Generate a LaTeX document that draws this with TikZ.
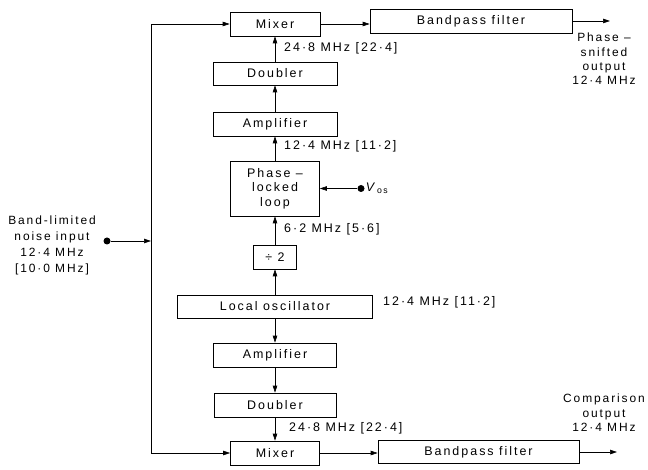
\documentclass[tikz,border=0pt]{standalone}
\usepackage{fontspec}
\setmainfont{Liberation Sans}[LetterSpace=16]
\usepackage{tikz}
\usetikzlibrary{positioning,arrows.meta}

\begin{document}
\begin{tikzpicture}[
				x=1bp, y=-1bp,
				every node/.style={font=\fontsize{12.5}{14.5}\selectfont},
				block/.style={
						draw,
						rectangle,
						minimum height=24bp,
						inner sep=0pt,
						align=center,
						semithick
					},
				freq/.style={anchor=west, inner sep=0pt},
				label/.style={align=center, font=\fontsize{12}{14.5}\selectfont},
				arrow/.style={-{Triangle[length=7bp,width=4.5bp]}, semithick},
				dot/.style={circle, fill, inner sep=0pt, minimum size=7bp}
			]
		\useasboundingbox (0,0) rectangle (648,470);

		% Upper branch (phase-shifted path)
		\node[block, minimum width=90bp] (mixA) at (275,24) {Mixer};
		\node[block, minimum width=202bp] (bpfA) at (471,21) {Bandpass filter};
		\node[block, minimum width=124bp, minimum height=23bp] (dblA) at (275,73.5) {Doubler};
		\node[block, minimum width=124bp] (ampA) at (275,124) {Amplifier};
		\node[block, minimum width=89bp, minimum height=55bp] (pll) at (275,188.5) {Phase –\\locked\\loop};
		\node[block, minimum width=43bp] (div) at (275,257) {÷ 2};

		% Local oscillator and lower branch (comparison path)
		\node[block, minimum width=195bp, minimum height=23bp] (lo) at (275,306.5) {Local oscillator};
		\node[block, minimum width=123bp] (ampB) at (275,355) {Amplifier};
		\node[block, minimum width=122bp] (dblB) at (275,405) {Doubler};
		\node[block, minimum width=89bp] (mixB) at (275,453) {Mixer};
		\node[block, minimum width=201bp, minimum height=23bp] (bpfB) at (478.5,452) {Bandpass filter};

		% Input, control voltage and outputs
		\node[dot] (in) at (107,241) {};
		\coordinate (jn) at (151,241);
		\node[dot] (vos) at (361,188.5) {};
		\node[anchor=west, inner sep=1pt] (voslbl) at (vos.east) {\textit{V}\textsubscript{os}};
		\coordinate (outA) at (610,21);
		\coordinate (outB) at (617,452);

		% Connectors
		\draw[arrow] (in) -- (jn);
		\draw[arrow] (jn) |- (mixA.west);
		\draw[arrow] (jn) |- (mixB.west);
		\foreach \src/\dst in {lo/div, div/pll, pll/ampA, ampA/dblA, dblA/mixA} {
				\draw[arrow] (\src.north) -- (\dst.south);
			}
		\foreach \src/\dst in {lo/ampB, ampB/dblB, dblB/mixB} {
				\draw[arrow] (\src.south) -- (\dst.north);
			}
		\draw[arrow] (vos) -- (pll.east);
		\draw[arrow] (mixA.east) -- (mixA.east -| bpfA.west);
		\draw[arrow] (mixB.east) -- (mixB.east -| bpfB.west);
		\draw[arrow] (bpfA.east) -- (outA);
		\draw[arrow] (bpfB.east) -- (outB);

		% Frequency labels
		\node[freq] (fA) at (284,48) {24·8 MHz [22·4]};
		\node[freq] (fB) at (284,146) {12·4 MHz [11·2]};
		\node[freq] (fC) at (284,229) {6·2 MHz [5·6]};
		\node[freq] (fD) at (383,302) {12·4 MHz [11·2]};
		\node[freq] (fE) at (289,428) {24·8 MHz [22·4]};

		% Terminal labels
		\node[label, font=\fontsize{12}{16}\selectfont] (inlbl) at (52,245) {Band-limited\\noise input\\12·4 MHz\\{[10·0 MHz]}};
		\node[label] (outAlbl) at (604,59) {Phase –\\snifted\\output\\12·4 MHz};
		\node[label] (outBlbl) at (604,413) {Comparison\\output\\12·4 MHz};
	\end{tikzpicture}
\end{document}
